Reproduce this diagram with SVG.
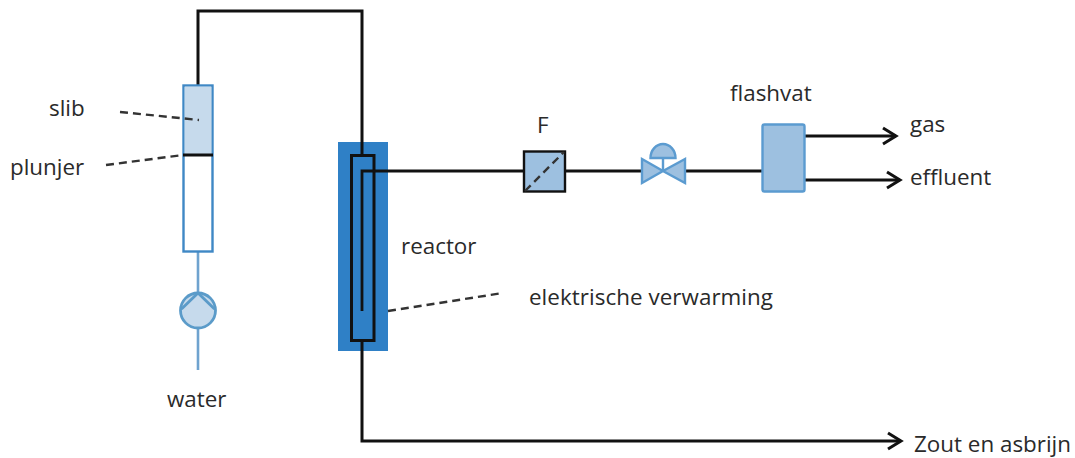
<svg xmlns="http://www.w3.org/2000/svg" width="1075" height="458" viewBox="0 0 1075 458">
<defs>
<marker id="arrow" markerUnits="userSpaceOnUse" markerWidth="22" markerHeight="22" refX="18" refY="11" orient="auto"><path d="M5 3 L18 11 L5 19" fill="none" stroke="#111" stroke-width="3"/></marker>
</defs>
<style>
text{font-family:"Open Sans","Noto Sans","Liberation Sans",sans-serif;font-size:22.400px;fill:#2a2a2a}
.pipe{fill:none;stroke:#111;stroke-width:3}
.thin{fill:none;stroke:#111;stroke-width:2.800}
.dash{fill:none;stroke:#333;stroke-width:2.400;stroke-dasharray:8 5}
.blue{stroke:#5b9bc9;stroke-width:2.800;fill:#c6daec}
.mid{stroke:#5b9bd0;stroke-width:2.400;fill:#9dc0e0}
</style>
<rect width="1075" height="458" fill="#fff"/>
<g id="connectors">
<path class="pipe" d="M198 85 V11 H362 V142"/>
<path class="pipe" d="M362 340 V441 H901" marker-end="url(#arrow)"/>
<path class="thin" d="M362 311 V171 H524"/>
<path class="thin" d="M565 171 H641"/>
<path class="thin" d="M686 171 H762"/>
<path class="thin" d="M804 136 H896" marker-end="url(#arrow)"/>
<path class="pipe" d="M804 180 H900" marker-end="url(#arrow)"/>
<path d="M198 252 V292 M198 329 V370" fill="none" stroke="#6fa3cf" stroke-width="2.600"/>
</g>
<g id="cylinder">
<rect x="183.500" y="85.500" width="29" height="166" fill="#fff" stroke="#3f88c5" stroke-width="2.400"/>
<rect x="184.700" y="86.700" width="26.600" height="68.800" fill="#c6daec"/>
<path d="M183 155 H213" stroke="#111" stroke-width="3"/>
</g>
<g id="pump">
<circle cx="198" cy="310.500" r="17.500" class="blue"/>
<path d="M198 293 L181.500 309 M198 293 L214.500 309" fill="none" stroke="#5b9bc9" stroke-width="2.800"/>
</g>
<g id="reactor">
<rect x="338" y="142" width="50" height="209" fill="#2f80c6"/>
<rect x="351.500" y="155.500" width="22.500" height="185" fill="none" stroke="#111" stroke-width="3"/>
<path class="pipe" d="M362 142 V155 M362 340 V351"/>
<path class="thin" d="M362 311 V171 H388"/>
</g>
<g id="filter">
<rect x="524" y="151.500" width="41" height="40" fill="#9dc0e0" stroke="#111" stroke-width="2.400"/>
<path d="M525 191 L564 152" class="dash" stroke-dasharray="6 4"/>
</g>
<g id="valve">
<path class="mid" d="M642 159 L663 171 L642 183 Z M685 159 L663 171 L685 183 Z"/>
<path class="mid" d="M650.500 158 A12.500 14 0 0 1 675.500 158 Z"/>
<path d="M663 158 V171" stroke="#5b9bd0" stroke-width="2.400"/>
</g>
<g id="flashvat">
<rect x="762.500" y="124.500" width="42" height="67" rx="2" class="mid"/>
</g>
<g id="annotations">
<path class="dash" d="M120 112 L199 120"/>
<path class="dash" d="M106 165 L183 155"/>
<path class="dash" d="M388 311 L503 293"/>
</g>
<g id="labels">
<text x="49" y="116">slib</text>
<text x="10" y="175">plunjer</text>
<text x="167" y="407">water</text>
<text x="401" y="254">reactor</text>
<text x="529" y="305" textLength="244">elektrische verwarming</text>
<text x="537" y="133">F</text>
<text x="730" y="101">flashvat</text>
<text x="910" y="132">gas</text>
<text x="910" y="185">effluent</text>
<text x="914" y="452" textLength="157">Zout en asbrijn</text>
</g>
</svg>
